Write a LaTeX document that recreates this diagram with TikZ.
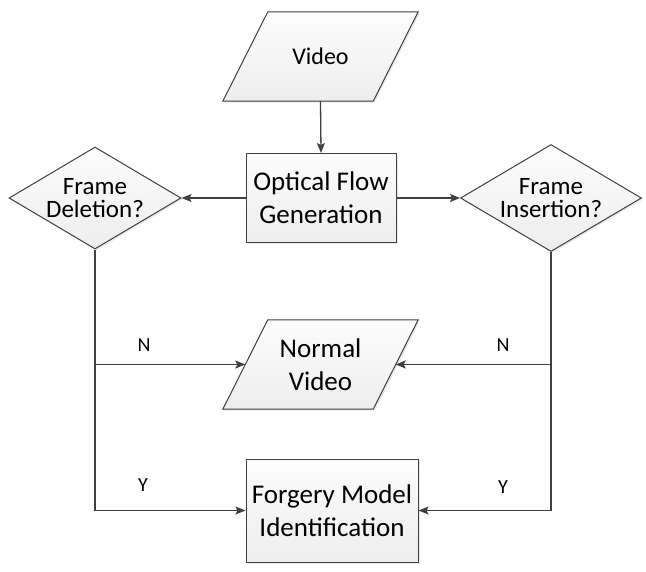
\documentclass[tikz,border=0pt]{standalone}
\usepackage{fontspec}
\setmainfont{Carlito}
\usetikzlibrary{shapes.geometric,arrows.meta,shadows,backgrounds,calc}
\definecolor{linec}{HTML}{404040}
\tikzset{
  x=1pt, y=-1pt,
  fillstyle/.style={draw=linec, line width=1pt,
    top color=gray!2, bottom color=gray!14,
    drop shadow={shadow xshift=1.5pt, shadow yshift=-1.5pt, opacity=0.18}},
  shapebase/.style={fillstyle, inner sep=0pt, align=center},
  iotext/.style={inner sep=0pt, align=center, minimum width=195pt, minimum height=89pt},
  procbox/.style={shapebase, rectangle},
  decbox/.style={shapebase, diamond, shape aspect=1.7, font=\fontsize{25}{23}\selectfont},
  conn/.style={draw=linec, line width=1.3pt, -{Stealth[length=10pt,width=8pt,inset=2pt]}},
  lab/.style={font=\fontsize{20}{24}\selectfont, inner sep=0pt}
}
\newcommand{\ioshape}[1]{%
  \begin{pgfonlayer}{background}
  \path[fillstyle] (#1.south west) -- ($(#1.north west)+(45,0)$) -- (#1.north east)
     -- ($(#1.south east)+(-45,0)$) -- cycle;
  \end{pgfonlayer}}
\begin{document}
\begin{tikzpicture}
\useasboundingbox (0,0) rectangle (646,571);
\node[iotext, font=\fontsize{24}{29}\selectfont] (video) at (320.5,56.5) {Video};
\ioshape{video}
\node[procbox, minimum width=150pt, minimum height=89pt, font=\fontsize{27}{33}\selectfont] (ofg) at (321,198) {Optical Flow\\Generation};
\node[decbox, minimum width=172pt, minimum height=102pt] (del) at (95,198) {Frame\\Deletion?};
\node[decbox, minimum width=181pt, minimum height=107pt] (ins) at (551,198) {Frame\\Insertion?};
\node[iotext, font=\fontsize{27}{33}\selectfont] (nv) at (320.5,364.5) {Normal\\Video};
\ioshape{nv}
\node[procbox, minimum width=172pt, minimum height=103pt, font=\fontsize{27}{33}\selectfont] (fmi) at (332,510.5) {Forgery Model\\Identification};

\coordinate (nvl) at ($(nv.west)+(22.5,0)$);
\coordinate (nvr) at ($(nv.east)+(-22.5,0)$);

\draw[conn] (video.south) -- (ofg.north);
\draw[conn] (ofg.west) -- (del.east);
\draw[conn] (ofg.east) -- (ins.west);

\coordinate (jl) at (del.south |- nvl);
\coordinate (jr) at (ins.south |- nvr);
\draw[conn] (del.south) |- (fmi.west);
\draw[conn] (jl) -- (nvl);
\draw[conn] (ins.south) |- (fmi.east);
\draw[conn] (jr) -- (nvr);

\node[lab] (nl) at (144,345) {N};
\node[lab] (nr) at (503,345) {N};
\node[lab] (yl) at (143,485) {Y};
\node[lab] (yr) at (503,487) {Y};
\end{tikzpicture}
\end{document}
